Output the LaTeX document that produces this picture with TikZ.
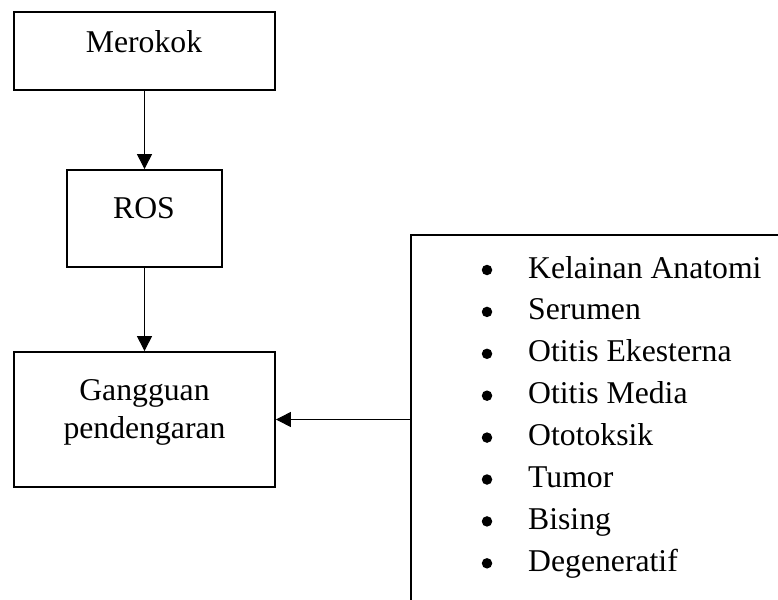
\documentclass[tikz,border=0pt]{standalone}
\usepackage{fontspec}
\setmainfont{Liberation Serif}
\usetikzlibrary{arrows.meta}
\begin{document}
\begin{tikzpicture}[x=1pt,y=-1pt,
  box/.style={draw, line width=1.8pt, inner sep=0pt},
  lbl/.style={anchor=base, inner sep=0pt, font=\fontsize{31.7}{38}\selectfont},
  itm/.style={anchor=base west, inner sep=0pt, font=\fontsize{31.7}{38}\selectfont},
  bul/.style={circle, fill, inner sep=0pt, minimum size=10.5pt},
  conn/.style={line width=1pt, -{Triangle[length=15pt,width=15pt]}}]
\useasboundingbox (0,0) rectangle (778,599);
\fill[white] (0,0) rectangle (778,599);
% boxes
\node[box, minimum width=261pt, minimum height=78pt] (merokok) at (144.5,51) {};
\node[box, minimum width=155pt, minimum height=97pt] (ros) at (144.5,218.5) {};
\node[box, minimum width=261pt, minimum height=135pt] (gangguan) at (144.5,419.5) {};
% texts
\node[lbl] (tmerokok) at (144,53) {Merokok};
\node[lbl] (tros) at (144,218) {ROS};
\node[lbl] (tgang1) at (144.5,400) {Gangguan};
\node[lbl] (tgang2) at (144.5,438) {pendengaran};
% list frame (open right and bottom)
\coordinate (ltr) at (780,235);
\coordinate (ltl) at (411,235);
\coordinate (lbl) at (411,602);
\coordinate (lconn) at (411,419.5);
\draw[line width=1.8pt] (ltr) -- (ltl) -- (lbl);
% list items
\foreach \t [count=\i] in {Kelainan Anatomi,Serumen,Otitis Ekesterna,Otitis Media,Ototoksik,Tumor,Bising,Degeneratif}{
  \pgfmathsetmacro{\yy}{278+41.9*(\i-1)}
  \node[bul] (b\i) at (487,\yy-8) {};
  \node[itm] (it\i) at (528,\yy) {\t};
}
% connectors
\draw[conn] (merokok.south) -- (ros.north);
\draw[conn] (ros.south) -- (gangguan.north);
\draw[conn] (lconn) -- (gangguan.east);
\end{tikzpicture}
\end{document}
